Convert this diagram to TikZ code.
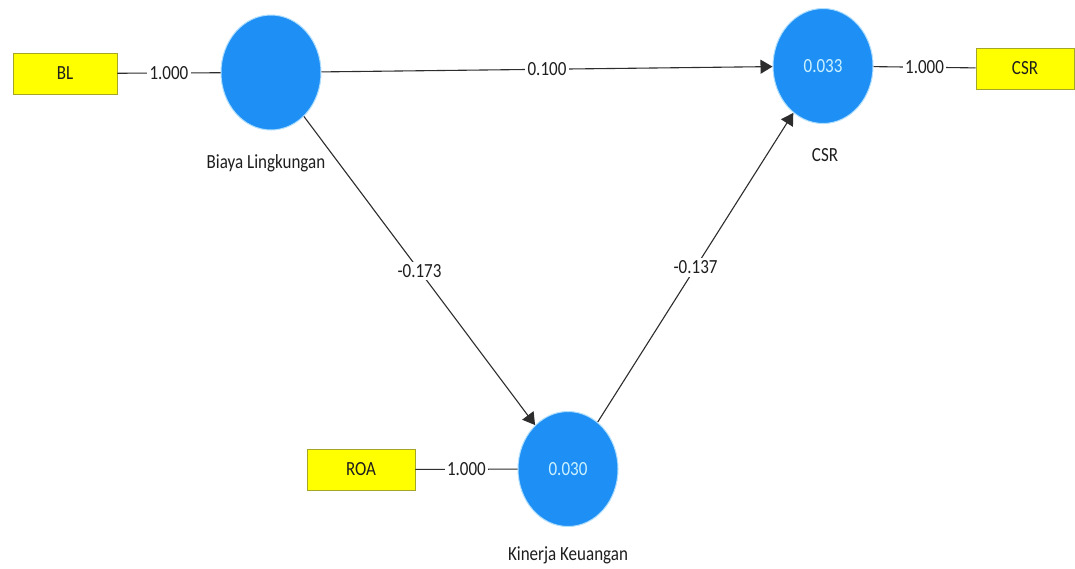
\documentclass[tikz,border=0pt]{standalone}
\usepackage{fontspec}
\usepackage{graphicx}
\setmainfont{Carlito}
\usetikzlibrary{shapes.geometric,arrows.meta}
\definecolor{lvblue}{RGB}{30,144,245}
\definecolor{lvhalo}{RGB}{175,222,255}
\definecolor{mvyellow}{RGB}{255,255,0}
\definecolor{mvedge}{RGB}{165,165,40}
\definecolor{lnc}{RGB}{45,45,45}
\definecolor{rsq}{RGB}{205,242,255}
\definecolor{txc}{RGB}{30,30,30}
\newcommand\tx[1]{\scalebox{1}[1.18]{#1}}
\tikzset{
  lblfont/.style={font=\fontsize{17}{20}\selectfont},
  latent/.style={ellipse, fill=lvblue, draw=lvhalo, line width=1pt,
    minimum width=100pt, minimum height=115pt, inner sep=0pt, text=rsq, lblfont},
  manifest/.style={rectangle, fill=mvyellow, draw=mvedge, line width=0.8pt,
    minimum height=41pt, inner sep=0pt, text=txc, lblfont},
  caption/.style={text=txc, lblfont, inner sep=0pt},
  wlabel/.style={fill=white, inner sep=2.5pt, text=txc, lblfont},
  link/.style={draw=lnc, line width=1.1pt},
  effect/.style={link, -{Triangle[length=12pt,width=14pt]}},
}
\begin{document}
\begin{tikzpicture}[x=1pt,y=-1pt]
\useasboundingbox[fill=white] (0,0) rectangle (1075,568);
% latent variables
\node[latent] (bl) at (271,72.5) {};
\node[latent] (csr) at (823,66) {\tx{0.033}};
\node[latent] (kk) at (568,469) {\tx{0.030}};
% captions
\node[caption] (blcap) at (266,163) {\tx{Biaya Lingkungan}};
\node[caption] (csrcap) at (825,155) {\tx{CSR}};
\node[caption] (kkcap) at (568,555) {\tx{Kinerja Keuangan}};
% indicators
\node[manifest, minimum width=104pt] (blbox) at (65,73.5) {\tx{BL}};
\node[manifest, minimum width=98pt] (csrbox) at (1025,68.5) {\tx{CSR}};
\node[manifest, minimum width=108pt] (roabox) at (361,469.5) {\tx{ROA}};
% outer loadings
\draw[link] (blbox) -- node[wlabel]{\tx{1.000}} (bl);
\draw[link] (csr) -- node[wlabel]{\tx{1.000}} (csrbox);
\draw[link] (roabox) -- node[wlabel]{\tx{1.000}} (kk);
% paths
\draw[effect] (bl) -- node[wlabel]{\tx{0.100}} (csr);
\draw[effect] (bl) -- node[wlabel]{\tx{-0.173}} (kk);
\draw[effect] (kk) -- node[wlabel]{\tx{-0.137}} (csr);
\end{tikzpicture}
\end{document}
